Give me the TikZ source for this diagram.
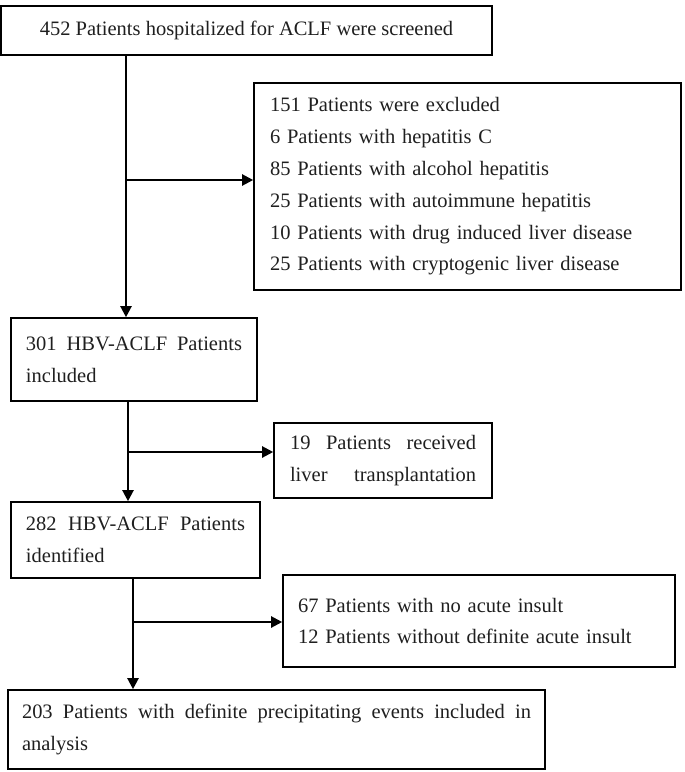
\documentclass[tikz,border=0pt]{standalone}
\usepackage{fontspec}
\setmainfont{Liberation Serif}
\usetikzlibrary{arrows.meta}
\newcommand\myboxfont{\fontsize{20.5}{31.8}\selectfont\hyphenpenalty=10000 \exhyphenpenalty=10000 \relax}
\begin{document}
\begin{tikzpicture}[x=1pt,y=1pt,
  box/.style={draw, line width=1.6pt, inner sep=0pt, text=black!88, font=\myboxfont},
  arr/.style={line width=2.2pt, -{Triangle[length=11pt,width=11pt]}},
  ]
\useasboundingbox (0,0) rectangle (685,-772);
% boxes
\node[box, minimum width=491, minimum height=49] (b1) at (246.5,-30.5)
  {452 Patients hospitalized for ACLF were screened};
\node[box, minimum width=427, minimum height=207, text width=395, align=left] (ex) at (467.5,-186.5)
  {151 Patients were excluded\\
   6 Patients with hepatitis C\\
   85 Patients with alcohol hepatitis\\
   25 Patients with autoimmune hepatitis\\
   10 Patients with drug induced liver disease\\
   25 Patients with cryptogenic liver disease};
\node[box, minimum width=246, minimum height=83, text width=216, align=justify] (b2) at (134,-359.5)
  {301 HBV-ACLF Patients included};
\node[box, minimum width=218, minimum height=75, text width=186, align=left] (lt) at (383,-460.5)
  {19\hfill Patients\hfill received\\ liver\hfill transplantation};
\node[box, minimum width=249, minimum height=76, text width=219, align=left] (b3) at (135.5,-540)
  {282\hfill HBV-ACLF\hfill Patients\\ identified};
\node[box, minimum width=392, minimum height=92, text width=362, align=left] (ai) at (479,-621)
  {67 Patients with no acute insult\\
   12 Patients without definite acute insult};
\node[box, minimum width=537, minimum height=79, text width=509, align=justify] (b4) at (276.5,-729.5)
  {203 Patients with definite precipitating events included in analysis};
% connectors
\coordinate (j1) at (126,-180);
\coordinate (j2) at (128,-452);
\coordinate (j3) at (133,-622);
\draw[arr] (b1.south -| j1) -- (b2.north -| j1);
\draw[arr] (j1) -- (ex.west |- j1);
\draw[arr] (b2.south -| j2) -- (b3.north -| j2);
\draw[arr] (j2) -- (lt.west |- j2);
\draw[arr] (b3.south -| j3) -- (b4.north -| j3);
\draw[arr] (j3) -- (ai.west |- j3);
\end{tikzpicture}
\end{document}
